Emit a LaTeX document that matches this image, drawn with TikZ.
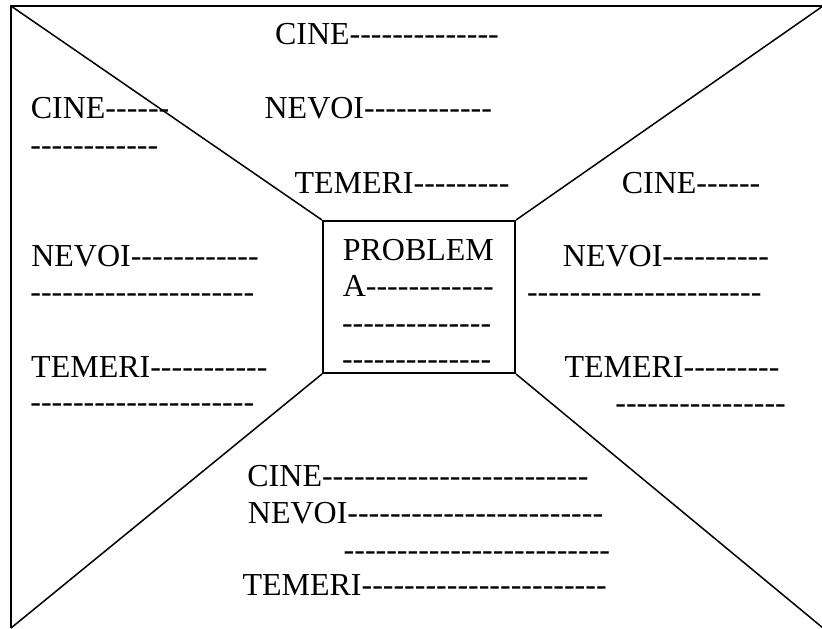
\documentclass[tikz,border=0pt]{standalone}
\usepackage{fontspec}
\setmainfont{Liberation Serif}
% a row of separate hyphens (kerns keep them from merging into dashes)
\newcount\hycnt
\newcommand{\hyphs}[1]{\hycnt=0 \loop\ifnum\hycnt<#1 -\kern0pt\advance\hycnt by 1 \repeat}
\begin{document}
\begin{tikzpicture}[x=1pt,y=-1pt,
  frame/.style={line width=2pt},
  spoke/.style={line width=1.5pt},
  probbox/.style={draw,line width=2pt,minimum width=192pt,minimum height=152pt,inner sep=0pt},
  txt/.style={anchor=base west,inner sep=0pt,outer sep=0pt,font=\fontsize{32}{36}\selectfont}]
\useasboundingbox (0,0) rectangle (822,629);

% outer frame corners
\coordinate (tl) at (11,6);
\coordinate (tr) at (823,6);
\coordinate (bl) at (11,628);
\coordinate (br) at (823,628);
\draw[frame] (bl) -- (tl) -- (tr);

% central box
\node[probbox] (prob) at (419,297) {};

% spokes from the corners to the box
\draw[spoke] (tl) -- (prob.north west);
\draw[spoke] (tr) -- (prob.north east);
\draw[spoke] (bl) -- (prob.south west);
\draw[spoke] (br) -- (prob.south east);

% top field
\node[txt] (t1) at (275,44) {CINE\hyphs{14}};
\node[txt] (t2) at (264.6,118) {NEVOI\hyphs{12}};
\node[txt] (t3) at (294.5,193) {TEMERI\hyphs{9}};

% left field
\node[txt] (l1) at (30.8,118) {CINE\hyphs{6}};
\node[txt] (l2) at (30.4,155) {\hyphs{12}};
\node[txt] (l3) at (31.3,266) {NEVOI\hyphs{12}};
\node[txt] (l4) at (30.4,302) {\hyphs{21}};
\node[txt] (l5) at (31.2,377) {TEMERI\hyphs{11}};
\node[txt] (l6) at (30.4,412) {\hyphs{21}};

% right field
\node[txt] (r1) at (621.8,193) {CINE\hyphs{6}};
\node[txt] (r2) at (562.9,266.5) {NEVOI\hyphs{10}};
\node[txt] (r3) at (527,302) {\hyphs{22}};
\node[txt] (r4) at (564.5,377) {TEMERI\hyphs{9}};
\node[txt] (r5) at (615.4,413) {\hyphs{16}};

% inside the box
\node[txt] (b1) at (342.8,260) {PROBLEM};
\node[txt] (b2) at (342.8,296.7) {A\hyphs{12}};
\node[txt] (b3) at (342,333) {\hyphs{14}};
\node[txt] (b4) at (342,369) {\hyphs{14}};

% bottom field
\node[txt] (m1) at (247.4,486.7) {CINE\hyphs{25}};
\node[txt] (m2) at (247.9,523.3) {NEVOI\hyphs{24}};
\node[txt] (m3) at (343.7,560.5) {\hyphs{25}};
\node[txt] (m4) at (242.5,595) {TEMERI\hyphs{23}};
\end{tikzpicture}
\end{document}
